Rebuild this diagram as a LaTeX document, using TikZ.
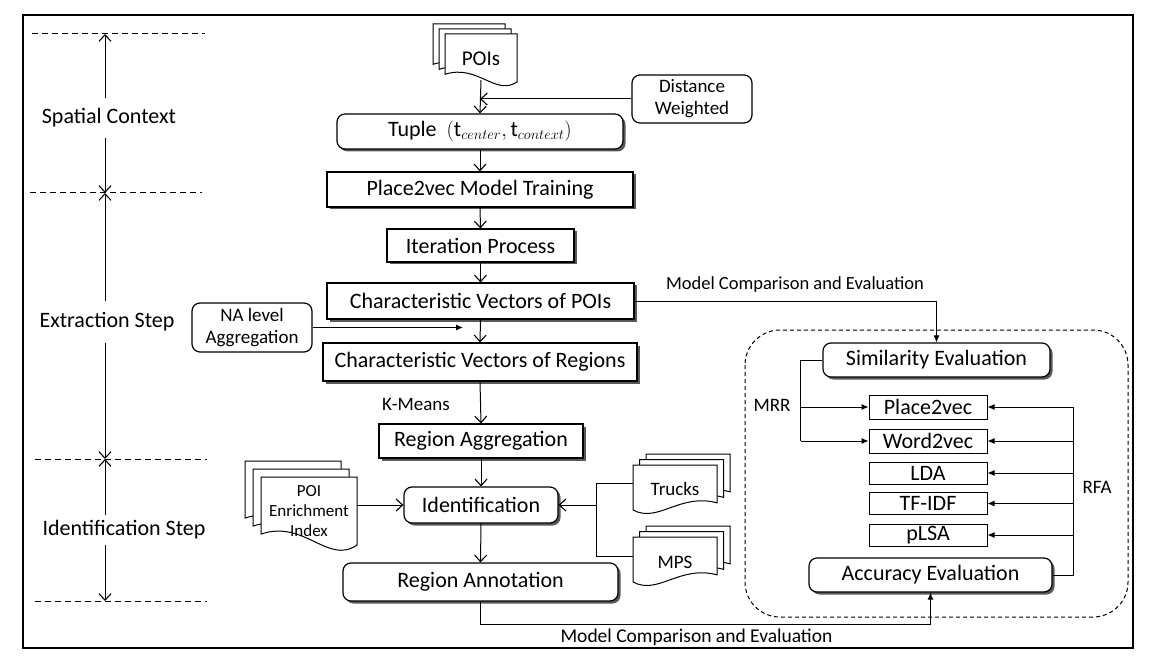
\documentclass[tikz,border=0pt]{standalone}
\usepackage{fontspec}
\setmainfont{Carlito}
\usetikzlibrary{arrows.meta,shadows,calc}
\newcommand\mydocR[4]{%
\filldraw[docst] (#1,#2) -- ({#1+#3},#2) -- ({#1+#3},{#2+0.84*#4}) .. controls ({#1+0.55*#3},{#2+0.62*#4}) and ({#1+0.3*#3},{#2+1.3*#4}) .. (#1,{#2+#4}) -- cycle;}
\newcommand\mydocL[4]{%
\filldraw[docst] (#1,#2) -- ({#1+#3},#2) -- ({#1+#3},{#2+#4}) .. controls ({#1+0.7*#3},{#2+1.3*#4}) and ({#1+0.45*#3},{#2+0.62*#4}) .. (#1,{#2+0.84*#4}) -- cycle;}
\tikzset{
 docst/.style={fill=white,draw=black,line width=1pt},
 base/.style={draw=black,line width=1.2pt,fill=white,inner sep=0pt,align=center,font=\fontsize{22}{26}\selectfont},
 sbox/.style={base,drop shadow={shadow xshift=2.5pt,shadow yshift=-2.5pt,fill=black,opacity=0.65}},
 rbox/.style={sbox,rounded corners=8pt},
 prbox/.style={base,rounded corners=8pt,font=\fontsize{19}{22}\selectfont},
 mbox/.style={base,line width=1pt},
 lbl/.style={inner sep=0pt,align=center,font=\fontsize{22}{26}\selectfont},
 slbl/.style={inner sep=0pt,align=center,font=\fontsize{19}{22}\selectfont},
 flow/.style={-{Straight Barb[length=6.5pt,width=12pt,line width=1.1pt]},line width=1pt},
 fflow/.style={-{Latex[length=7pt,width=6pt]},line width=1pt},
 conn/.style={line width=1pt},
 dline/.style={dash pattern=on 6pt off 4pt,line width=1pt},
}
\begin{document}
\begin{tikzpicture}[x=1pt,y=-1pt]
\useasboundingbox (0,0) rectangle (1156,668);
\draw[line width=1.5pt] (23,15) rectangle (1133,648);

% left dashed guides
\draw[dline] (32,34) -- (205,34);
\draw[dline] (30,193) -- (202,193);
\draw[dline] (35,459) -- (207,459);
\draw[dline] (35,601) -- (207,601);
\coordinate (g1) at (105,34);
\coordinate (g2) at (105,193);
\coordinate (g3) at (105,459);
\coordinate (g4) at (105,601);
\node[lbl,minimum height=40pt] (sc) at (109,118) {Spatial Context};
\node[lbl,minimum height=41pt] (ex) at (107,322) {Extraction Step};
\node[lbl,minimum height=29pt] (ids) at (124,530) {Identification Step};
\draw[flow] (sc.north -| g1) -- (g1);
\draw[flow] (sc.south -| g2) -- (g2);
\draw[flow] (ex.north -| g2) -- (g2);
\draw[flow] (ex.south -| g3) -- (g3);
\draw[flow] (ids.north -| g3) -- (g3);
\draw[flow] (ids.south -| g4) -- (g4);

% documents
\mydocL{433}{24}{72}{48}
\mydocL{439}{29}{72}{48}
\mydocL{445}{34}{72}{48}
\node[inner sep=0pt,minimum width=72pt,minimum height=42pt,font=\fontsize{21}{24}\selectfont] (pois) at (481,59) {POIs};

\mydocL{245}{461}{96}{68}
\mydocL{253}{469}{96}{68}
\mydocL{261}{477}{96}{68}
\node[inner sep=0pt,minimum width=96pt,align=center,font=\fontsize{17}{20}\selectfont] (poie) at (309,511) {POI\\Enrichment\\Index};

\mydocR{646}{454}{84}{45}
\mydocR{639.5}{459.5}{84}{45}
\mydocR{633}{465}{84}{45}
\node[slbl,minimum width=84pt] (trucks) at (675,489) {Trucks};

\mydocR{646}{526}{84}{45}
\mydocR{639.5}{531.5}{84}{45}
\mydocR{633}{537}{84}{45}
\node[slbl,minimum width=84pt] (mps) at (675,562) {MPS};

% central column
\node[rbox,minimum width=286pt,minimum height=35pt] (tuple) at (480,131.5) {Tuple\ \ $($t$_{center},$\,t$_{context})$};
\node[prbox,minimum width=120pt,minimum height=48pt] (dw) at (692,99) {Distance\\Weighted};
\node[sbox,minimum width=306pt,minimum height=35pt] (p2vt) at (480,189.5) {Place2vec Model Training};
\node[sbox,minimum width=187pt,minimum height=33pt] (iter) at (480.5,245.5) {Iteration Process};
\node[sbox,minimum width=307pt,minimum height=36pt] (cvp) at (480.5,301) {Characteristic Vectors of POIs};
\node[sbox,minimum width=314pt,minimum height=38pt] (cvr) at (480,362) {Characteristic Vectors of Regions};
\node[prbox,minimum width=120pt,minimum height=49pt] (na) at (252,327.5) {NA level\\Aggregation};
\node[slbl] (km) at (416,404) {K-Means};
\node[sbox,minimum width=204pt,minimum height=34pt] (ragg) at (481,441) {Region Aggregation};
\node[rbox,minimum width=154pt,minimum height=36pt] (ident) at (481,505) {Identification};
\node[rbox,minimum width=275pt,minimum height=38pt] (ranno) at (480.5,582) {Region Annotation};

\draw[flow] (pois.south) -- (tuple.north);
\draw[flow] (dw.west) -- (dw.west -| tuple.north);
\draw[flow] (tuple.south) -- (p2vt.north);
\draw[flow] (p2vt.south) -- (iter.north);
\draw[flow] (iter.south) -- (cvp.north);
\draw[flow] (cvp.south) -- (cvr.north);
\coordinate (naj) at (463,327.5);
\draw[fflow] (na.east) -- (naj);
\draw[flow] (cvr.south) -- (ragg.north);
\draw[flow] (ragg.south) -- (ident.north);
\draw[flow] (poie.east |- ident.west) -- (ident.west);
\coordinate (jt) at (596,483);
\coordinate (jm) at (596,556);
\coordinate (jc) at (596,505);
\draw[conn] (trucks.west |- jt) -- (jt) -- (jm) -- (mps.west |- jm);
\draw[flow] (jc) -- (ident.east);
\draw[flow] (ident.south) -- (ranno.north);

% right evaluation panel
\draw[dash pattern=on 4pt off 3pt,line width=1pt,rounded corners=35pt] (745,330) rectangle (1128,617);
\node[rbox,minimum width=227pt,minimum height=34pt] (se) at (936.5,360) {Similarity Evaluation};
\node[rbox,minimum width=243pt,minimum height=34pt] (ae) at (930.5,575) {Accuracy Evaluation};
\node[mbox,minimum width=118pt,minimum height=24pt] (p2v) at (928,407) {Place2vec};
\node[mbox,minimum width=118pt,minimum height=24pt] (w2v) at (928,441) {Word2vec};
\node[mbox,minimum width=118pt,minimum height=22pt] (lda) at (928,473) {LDA};
\node[mbox,minimum width=118pt,minimum height=22pt] (tfidf) at (928,503.5) {TF-IDF};
\node[mbox,minimum width=118pt,minimum height=22pt] (plsa) at (928,535) {pLSA};
\node[slbl] (mrr) at (772,405) {MRR};
\node[slbl] (rfa) at (1097,487) {RFA};

\coordinate (mrrb) at ($(w2v.west)+(-68,0)$);
\draw[conn] (se.west) -| (mrrb);
\draw[fflow] (p2v.west -| mrrb) -- (p2v.west);
\draw[fflow] (mrrb) -- (w2v.west);
\coordinate (rfat) at ($(p2v.east)+(86,0)$);
\draw[conn] (ae.east) -| (rfat);
\draw[fflow] (rfat) -- (p2v.east);
\draw[fflow] (w2v.east -| rfat) -- (w2v.east);
\draw[fflow] (lda.east -| rfat) -- (lda.east);
\draw[fflow] (tfidf.east -| rfat) -- (tfidf.east);
\draw[fflow] (plsa.east -| rfat) -- (plsa.east);

\draw[fflow] (cvp.east) -| (se.north);
\node[inner sep=0pt,font=\fontsize{18.5}{22}\selectfont] (mc1) at (795,285) {Model Comparison and Evaluation};
\draw[fflow] (ranno.south) -- ++(0,23) -| (ae.south);
\node[inner sep=0pt,font=\fontsize{19.5}{22}\selectfont] (mc2) at (696.5,637) {Model Comparison and Evaluation};
\end{tikzpicture}
\end{document}
